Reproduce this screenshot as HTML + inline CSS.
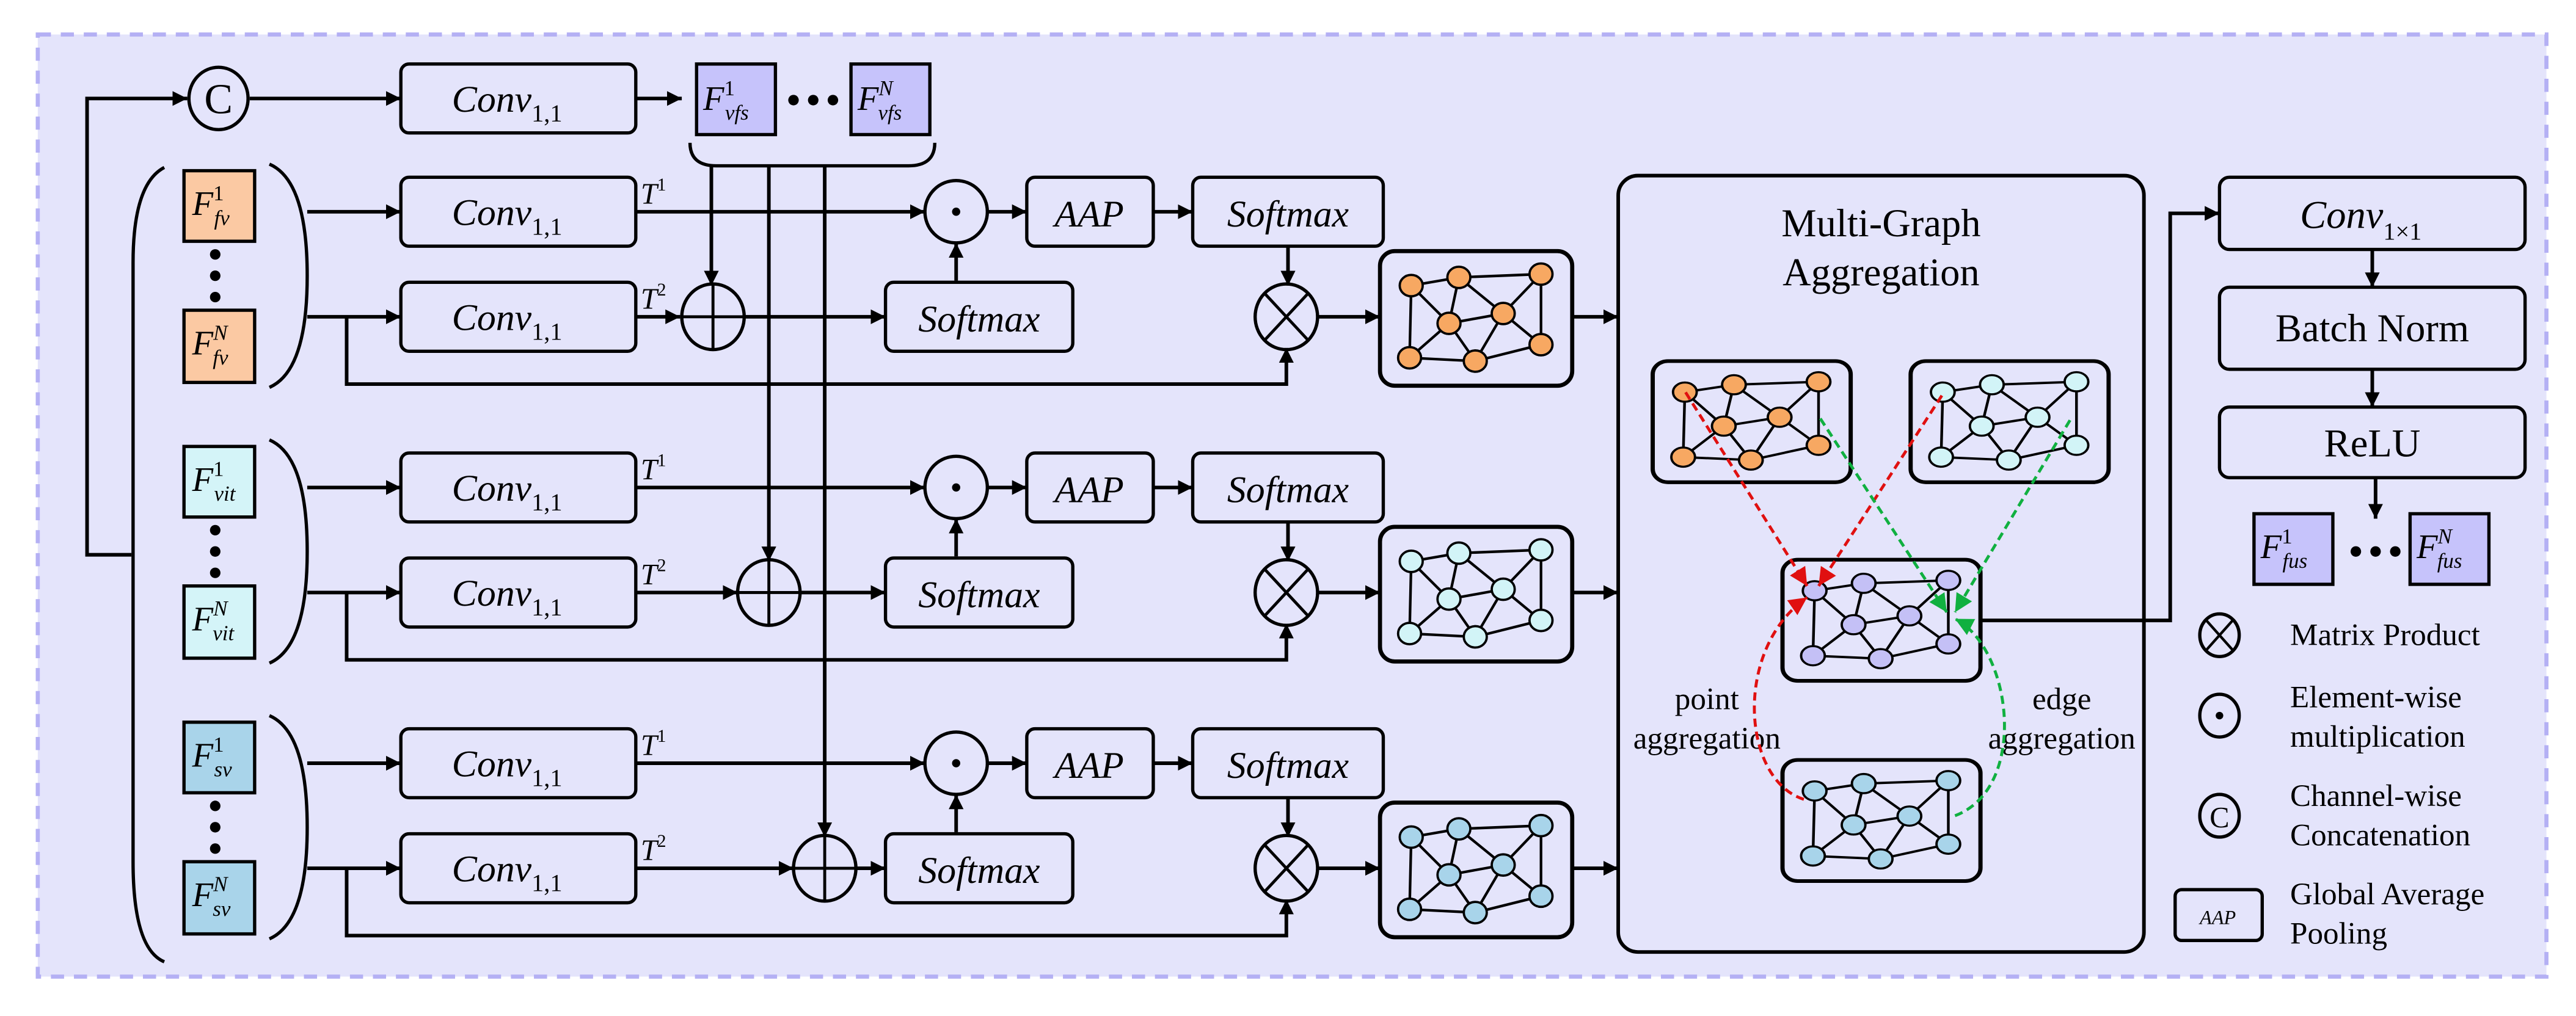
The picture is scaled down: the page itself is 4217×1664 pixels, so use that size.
<!DOCTYPE html>
<html><head><meta charset="utf-8"><style>
html,body{margin:0;padding:0;background:#fff;}
svg{display:block;font-family:"Liberation Serif",serif;}
svg text{font-family:"Liberation Serif",serif;fill:#000;}
.m{font-style:italic;}
</style></head><body>
<svg width="4217" height="1664" viewBox="0 0 1568 619" preserveAspectRatio="none" xmlns="http://www.w3.org/2000/svg" font-family="Liberation Serif, serif">
<defs>
<marker id="a" viewBox="0 0 10 10" refX="10" refY="5" markerWidth="9" markerHeight="9" markerUnits="userSpaceOnUse" orient="auto"><path d="M0,0L10,5L0,10z" fill="#000"/></marker>
<marker id="ar" viewBox="0 0 10 10" refX="10" refY="5" markerWidth="11" markerHeight="11" markerUnits="userSpaceOnUse" orient="auto"><path d="M0,0L10,5L0,10z" fill="#e01010"/></marker>
<marker id="ag" viewBox="0 0 10 10" refX="10" refY="5" markerWidth="11" markerHeight="11" markerUnits="userSpaceOnUse" orient="auto"><path d="M0,0L10,5L0,10z" fill="#10b040"/></marker>
<g id="gr">
<rect x="0" y="0" width="117" height="82" rx="9" fill="#e4e4fb" stroke="#000" stroke-width="2.5"/>
<g stroke="#000" stroke-width="1.6">
<line x1="19" y1="21" x2="48" y2="16"/><line x1="48" y1="16" x2="98" y2="14"/><line x1="19" y1="21" x2="18" y2="65"/>
<line x1="19" y1="21" x2="42" y2="44"/><line x1="48" y1="16" x2="42" y2="44"/><line x1="42" y1="44" x2="75" y2="38"/>
<line x1="48" y1="16" x2="75" y2="38"/><line x1="75" y1="38" x2="98" y2="14"/><line x1="98" y1="14" x2="98" y2="57"/>
<line x1="75" y1="38" x2="98" y2="57"/><line x1="42" y1="44" x2="18" y2="65"/><line x1="18" y1="65" x2="58" y2="67"/>
<line x1="58" y1="67" x2="98" y2="57"/><line x1="42" y1="44" x2="58" y2="67"/><line x1="75" y1="38" x2="58" y2="67"/>
</g>
<g stroke="#000" stroke-width="1.4">
<ellipse cx="19" cy="21" rx="7" ry="6.5"/><ellipse cx="48" cy="16" rx="7" ry="6.5"/><ellipse cx="98" cy="14" rx="7" ry="6.5"/>
<ellipse cx="42" cy="44" rx="7" ry="6.5"/><ellipse cx="75" cy="38" rx="7" ry="6.5"/><ellipse cx="18" cy="65" rx="7" ry="6.5"/>
<ellipse cx="58" cy="67" rx="7" ry="6.5"/><ellipse cx="98" cy="57" rx="7" ry="6.5"/>
</g>
</g>
<g id="row">
<rect x="244" y="108" width="143" height="42" rx="5" fill="none" stroke="#000" stroke-width="2"/>
<rect x="244" y="172" width="143" height="42" rx="5" fill="none" stroke="#000" stroke-width="2"/>
<text x="275" y="137" font-size="23" class="m" font-family="Liberation Serif, serif">Conv<tspan font-size="15" dy="6" font-style="normal">1,1</tspan></text>
<text x="275" y="201" font-size="23" class="m" font-family="Liberation Serif, serif">Conv<tspan font-size="15" dy="6" font-style="normal">1,1</tspan></text>
<text x="390" y="124" font-size="18" class="m" font-family="Liberation Serif, serif">T<tspan font-size="11" dy="-8" font-style="normal">1</tspan></text>
<text x="390" y="188" font-size="18" class="m" font-family="Liberation Serif, serif">T<tspan font-size="11" dy="-8" font-style="normal">2</tspan></text>
<path d="M164,100 Q187,110 187,168 Q187,226 164,236" fill="none" stroke="#000" stroke-width="2"/>
<g stroke="#000" stroke-width="2.2" fill="none">
<line x1="187" y1="129" x2="244" y2="129" marker-end="url(#a)"/>
<line x1="187" y1="193" x2="244" y2="193" marker-end="url(#a)"/>
<line x1="387" y1="129" x2="563" y2="129" marker-end="url(#a)"/>
<line x1="601" y1="129" x2="625" y2="129" marker-end="url(#a)"/>
<line x1="702" y1="129" x2="726" y2="129" marker-end="url(#a)"/>
<line x1="582" y1="171" x2="582" y2="148" marker-end="url(#a)"/>
<line x1="784" y1="150" x2="784" y2="174" marker-end="url(#a)"/>
<line x1="802" y1="193" x2="840" y2="193" marker-end="url(#a)"/>
<line x1="957" y1="193" x2="985" y2="193" marker-end="url(#a)"/>
<polyline points="211,193 211,234 783,234 783,212" marker-end="url(#a)"/>
</g>
<circle cx="582" cy="129" r="19" fill="none" stroke="#000" stroke-width="2"/>
<circle cx="582" cy="129" r="2.5" fill="#000"/>
<rect x="625" y="108" width="77" height="42" rx="5" fill="none" stroke="#000" stroke-width="2"/>
<text x="663" y="138" font-size="23" class="m" text-anchor="middle" font-family="Liberation Serif, serif">AAP</text>
<rect x="726" y="108" width="116" height="42" rx="5" fill="none" stroke="#000" stroke-width="2"/>
<text x="784" y="138" font-size="23" class="m" text-anchor="middle" font-family="Liberation Serif, serif">Softmax</text>
<rect x="539" y="172" width="114" height="42" rx="5" fill="none" stroke="#000" stroke-width="2"/>
<text x="596" y="202" font-size="23" class="m" text-anchor="middle" font-family="Liberation Serif, serif">Softmax</text>
<ellipse cx="783" cy="193" rx="19" ry="20" fill="none" stroke="#000" stroke-width="2"/>
<line x1="770" y1="179" x2="796" y2="207" stroke="#000" stroke-width="1.8"/>
<line x1="796" y1="179" x2="770" y2="207" stroke="#000" stroke-width="1.8"/>
<circle cx="131" cy="155" r="3.2" fill="#000"/><circle cx="131" cy="168" r="3.2" fill="#000"/><circle cx="131" cy="181" r="3.2" fill="#000"/>
</g>
</defs>
<rect x="23" y="21" width="1527" height="574" fill="#e4e4fb" stroke="#b4b0f4" stroke-width="2.5" stroke-dasharray="8,6"/>

<g stroke="#000" stroke-width="2.2" fill="none">
<polyline points="80,338 53,338 53,60 114,60" marker-end="url(#a)"/>
<line x1="152" y1="60" x2="244" y2="60" marker-end="url(#a)"/>
<line x1="387" y1="60" x2="415" y2="60" marker-end="url(#a)"/>
</g>
<ellipse cx="133" cy="60" rx="18" ry="19" fill="none" stroke="#000" stroke-width="2"/>
<text x="133" y="69" font-size="26" text-anchor="middle" font-family="Liberation Serif, serif">C</text>
<rect x="244" y="39" width="143" height="42" rx="5" fill="none" stroke="#000" stroke-width="2"/>
<text x="275" y="68" font-size="23" class="m" font-family="Liberation Serif, serif">Conv<tspan font-size="15" dy="6" font-style="normal">1,1</tspan></text>
<rect x="424" y="39" width="48" height="43" fill="#c6c3fb" stroke="#000" stroke-width="2"/>
<rect x="518" y="39" width="48" height="43" fill="#c6c3fb" stroke="#000" stroke-width="2"/>
<text x="428" y="67" font-size="21" class="m" font-family="Liberation Serif, serif">F<tspan font-size="13" dy="-9" font-style="normal">1</tspan><tspan font-size="13" dx="-6" dy="15">vfs</tspan></text>
<text x="522" y="67" font-size="21" class="m" font-family="Liberation Serif, serif">F<tspan font-size="13" dy="-9">N</tspan><tspan font-size="13" dx="-9" dy="15">vfs</tspan></text>
<circle cx="483" cy="61" r="3.2"/><circle cx="495" cy="61" r="3.2"/><circle cx="507" cy="61" r="3.2"/>
<path d="M420,87 Q420,101 436,101 L553,101 Q569,101 569,87" fill="none" stroke="#000" stroke-width="2"/>

<path d="M100,102 Q81,112 81,160 L81,525 Q81,578 100,586" fill="none" stroke="#000" stroke-width="2"/>

<use href="#row"/>
<use href="#row" y="168"/>
<use href="#row" y="336"/>

<g stroke="#000" stroke-width="2">
<rect x="112" y="104" width="43" height="43" fill="#fbc9a3"/><rect x="112" y="189" width="43" height="44" fill="#fbc9a3"/>
<rect x="112" y="272" width="43" height="43" fill="#d4f4f8"/><rect x="112" y="357" width="43" height="44" fill="#d4f4f8"/>
<rect x="112" y="440" width="43" height="43" fill="#a9d4ea"/><rect x="112" y="525" width="43" height="44" fill="#a9d4ea"/>
</g>
<g font-family="Liberation Serif, serif">
<text x="117" y="131" font-size="21" class="m">F<tspan font-size="13" dy="-9" font-style="normal">1</tspan><tspan font-size="13" dx="-6" dy="15">fv</tspan></text>
<text x="117" y="216" font-size="21" class="m">F<tspan font-size="13" dy="-9">N</tspan><tspan font-size="13" dx="-9" dy="15">fv</tspan></text>
<text x="117" y="299" font-size="21" class="m">F<tspan font-size="13" dy="-9" font-style="normal">1</tspan><tspan font-size="13" dx="-6" dy="15">vit</tspan></text>
<text x="117" y="384" font-size="21" class="m">F<tspan font-size="13" dy="-9">N</tspan><tspan font-size="13" dx="-9" dy="15">vit</tspan></text>
<text x="117" y="467" font-size="21" class="m">F<tspan font-size="13" dy="-9" font-style="normal">1</tspan><tspan font-size="13" dx="-6" dy="15">sv</tspan></text>
<text x="117" y="552" font-size="21" class="m">F<tspan font-size="13" dy="-9">N</tspan><tspan font-size="13" dx="-9" dy="15">sv</tspan></text>
</g>

<g stroke="#000" stroke-width="2.2" fill="none">
<line x1="433" y1="101" x2="433" y2="174" marker-end="url(#a)"/>
<line x1="468" y1="101" x2="468" y2="342" marker-end="url(#a)"/>
<line x1="502" y1="101" x2="502" y2="510" marker-end="url(#a)"/>
<line x1="387" y1="193" x2="414" y2="193" marker-end="url(#a)"/>
<line x1="453" y1="193" x2="539" y2="193" marker-end="url(#a)"/>
<line x1="387" y1="361" x2="449" y2="361" marker-end="url(#a)"/>
<line x1="487" y1="361" x2="539" y2="361" marker-end="url(#a)"/>
<line x1="387" y1="529" x2="483" y2="529" marker-end="url(#a)"/>
<line x1="521" y1="529" x2="539" y2="529" marker-end="url(#a)"/>
</g>
<g stroke="#000" stroke-width="2" fill="#e4e4fb">
<ellipse cx="434" cy="193" rx="19" ry="20"/><ellipse cx="468" cy="361" rx="19" ry="20"/><ellipse cx="502" cy="529" rx="19" ry="20"/>
</g>
<g stroke="#000" stroke-width="1.8">
<line x1="434" y1="173" x2="434" y2="213"/><line x1="415" y1="193" x2="453" y2="193"/>
<line x1="468" y1="341" x2="468" y2="381"/><line x1="449" y1="361" x2="487" y2="361"/>
<line x1="502" y1="509" x2="502" y2="549"/><line x1="483" y1="529" x2="521" y2="529"/>
</g>

<use href="#gr" x="840" y="153" fill="#f7a862"/>
<use href="#gr" x="840" y="321" fill="#d2f4f7"/>
<use href="#gr" x="840" y="489" fill="#a8d4ea"/>

<rect x="985" y="107" width="320" height="473" rx="12" fill="none" stroke="#000" stroke-width="2.2"/>
<g font-family="Liberation Serif, serif">
<text x="1145" y="144" font-size="24" text-anchor="middle">Multi-Graph</text>
<text x="1145" y="174" font-size="24" text-anchor="middle">Aggregation</text>
</g>
<use href="#gr" transform="translate(1006,220) scale(1.03,0.9)" fill="#f7a862"/>
<use href="#gr" transform="translate(1163,220) scale(1.03,0.9)" fill="#d2f4f7"/>
<use href="#gr" transform="translate(1085,341) scale(1.03,0.9)" fill="#c4c0f6"/>
<use href="#gr" transform="translate(1085,463) scale(1.03,0.9)" fill="#a8d4ea"/>
<g font-family="Liberation Serif, serif">
<text x="1039" y="432" font-size="19" text-anchor="middle">point</text>
<text x="1039" y="456" font-size="19" text-anchor="middle">aggregation</text>
<text x="1255" y="432" font-size="19" text-anchor="middle">edge</text>
<text x="1255" y="456" font-size="19" text-anchor="middle">aggregation</text>
</g>
<g fill="none" stroke-width="1.8" stroke-dasharray="5,3">
<line x1="1026" y1="239" x2="1100" y2="357" stroke="#e01010" marker-end="url(#ar)"/>
<line x1="1182" y1="241" x2="1107" y2="357" stroke="#e01010" marker-end="url(#ar)"/>
<line x1="1108" y1="255" x2="1185" y2="373" stroke="#10b040" marker-end="url(#ag)"/>
<line x1="1260" y1="256" x2="1190" y2="373" stroke="#10b040" marker-end="url(#ag)"/>
<path d="M1098,487 C1060,475 1055,395 1100,364" stroke="#e01010" marker-end="url(#ar)"/>
<path d="M1190,497 C1235,480 1225,395 1190,377" stroke="#10b040" marker-end="url(#ag)"/>
</g>
<polyline points="1206,378 1321,378 1321,130 1351,130" fill="none" stroke="#000" stroke-width="2.2" marker-end="url(#a)"/>

<rect x="1351" y="108" width="186" height="44" rx="6" fill="none" stroke="#000" stroke-width="2"/>
<g font-family="Liberation Serif, serif">
<text x="1400" y="139" font-size="24" class="m">Conv<tspan font-size="15" dy="7" font-style="normal">1×1</tspan></text>
<text x="1444" y="208" font-size="24" text-anchor="middle">Batch Norm</text>
<text x="1444" y="278" font-size="24" text-anchor="middle">ReLU</text>
</g>
<rect x="1351" y="175" width="186" height="50" rx="6" fill="none" stroke="#000" stroke-width="2"/>
<rect x="1351" y="248" width="186" height="43" rx="6" fill="none" stroke="#000" stroke-width="2"/>
<g stroke="#000" stroke-width="2.2">
<line x1="1444" y1="152" x2="1444" y2="175" marker-end="url(#a)"/>
<line x1="1444" y1="225" x2="1444" y2="248" marker-end="url(#a)"/>
<line x1="1446" y1="291" x2="1446" y2="316" marker-end="url(#a)"/>
</g>
<rect x="1372" y="313" width="48" height="43" fill="#c6c3fb" stroke="#000" stroke-width="2"/>
<rect x="1467" y="313" width="48" height="43" fill="#c6c3fb" stroke="#000" stroke-width="2"/>
<g font-family="Liberation Serif, serif">
<text x="1376" y="340" font-size="21" class="m">F<tspan font-size="13" dy="-9" font-style="normal">1</tspan><tspan font-size="13" dx="-6" dy="15">fus</tspan></text>
<text x="1471" y="340" font-size="21" class="m">F<tspan font-size="13" dy="-9">N</tspan><tspan font-size="13" dx="-9" dy="15">fus</tspan></text>
</g>
<circle cx="1434" cy="336" r="3.2"/><circle cx="1446" cy="336" r="3.2"/><circle cx="1458" cy="336" r="3.2"/>

<ellipse cx="1351" cy="387" rx="12" ry="13" fill="none" stroke="#000" stroke-width="2"/>
<line x1="1343" y1="378" x2="1359" y2="396" stroke="#000" stroke-width="1.6"/>
<line x1="1359" y1="378" x2="1343" y2="396" stroke="#000" stroke-width="1.6"/>
<ellipse cx="1351" cy="436" rx="12" ry="13" fill="none" stroke="#000" stroke-width="2"/>
<circle cx="1351" cy="436" r="2.3"/>
<ellipse cx="1351" cy="497" rx="12" ry="13" fill="none" stroke="#000" stroke-width="2"/>
<rect x="1324" y="542" width="53" height="31" rx="4" fill="none" stroke="#000" stroke-width="2"/>
<g font-family="Liberation Serif, serif">
<text x="1394" y="393" font-size="19">Matrix Product</text>
<text x="1394" y="431" font-size="19">Element-wise</text>
<text x="1394" y="455" font-size="19">multiplication</text>
<text x="1351" y="504" font-size="18" text-anchor="middle">C</text>
<text x="1394" y="491" font-size="19">Channel-wise</text>
<text x="1394" y="515" font-size="19">Concatenation</text>
<text x="1350" y="563" font-size="12" class="m" text-anchor="middle">AAP</text>
<text x="1394" y="551" font-size="19">Global Average</text>
<text x="1394" y="575" font-size="19">Pooling</text>
</g>
</svg>
</body></html>
